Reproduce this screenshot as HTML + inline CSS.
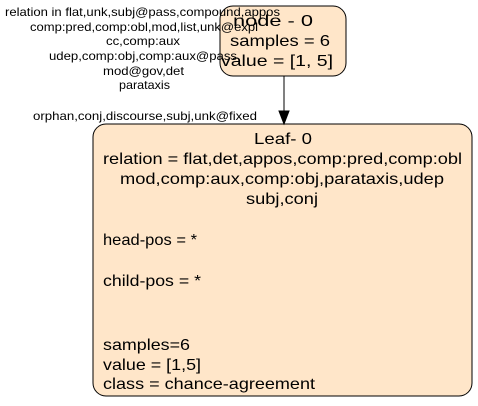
<!DOCTYPE html>
<html><head><style>
body{margin:0;width:478px;height:406px;background:#fff;position:relative;font-family:"Liberation Sans",sans-serif;overflow:hidden}
</style></head><body>
<svg width="478" height="406" style="position:absolute;left:0;top:0">
<rect x="220" y="6" width="126" height="70" rx="13" fill="#ffe6c9" stroke="#000" stroke-width="1"/>
<rect x="93" y="124" width="379" height="272" rx="13" fill="#ffe6c9" stroke="#000" stroke-width="1"/>
<line x1="284" y1="76" x2="284" y2="111" stroke="#000"/>
<polygon points="279,111 289,111 284,124" fill="#000" stroke="#000"/>
<g font-family="Liberation Sans, sans-serif" font-size="12" fill="#000">
<text x="5" y="16" textLength="275" lengthAdjust="spacingAndGlyphs">relation in flat,unk,subj@pass,compound,appos</text>
<text x="30" y="31" textLength="228" lengthAdjust="spacingAndGlyphs">comp:pred,comp:obl,mod,list,unk@expl</text>
<text x="106" y="45" textLength="74" lengthAdjust="spacingAndGlyphs">cc,comp:aux</text>
<text x="49" y="60" textLength="188" lengthAdjust="spacingAndGlyphs">udep,comp:obj,comp:aux@pass</text>
<text x="103" y="75" textLength="81" lengthAdjust="spacingAndGlyphs">mod@gov,det</text>
<text x="119" y="89" textLength="51" lengthAdjust="spacingAndGlyphs">parataxis</text>
<text x="33" y="120" textLength="224" lengthAdjust="spacingAndGlyphs">orphan,conj,discourse,subj,unk@fixed</text>
</g>
<g font-family="Liberation Sans, sans-serif" font-size="16" fill="#000">
<text x="233" y="26" textLength="80" lengthAdjust="spacingAndGlyphs">node - 0</text>
<text x="230" y="46" textLength="100" lengthAdjust="spacingAndGlyphs">samples = 6</text>
<text x="221" y="66" textLength="112" lengthAdjust="spacingAndGlyphs">value = [1, 5]</text>
<text x="254" y="144" textLength="58" lengthAdjust="spacingAndGlyphs">Leaf- 0</text>
<text x="103" y="164" textLength="359" lengthAdjust="spacingAndGlyphs">relation = flat,det,appos,comp:pred,comp:obl</text>
<text x="120" y="184" textLength="324" lengthAdjust="spacingAndGlyphs">mod,comp:aux,comp:obj,parataxis,udep</text>
<text x="246" y="204" textLength="72" lengthAdjust="spacingAndGlyphs">subj,conj</text>
<text x="103" y="245" textLength="94" lengthAdjust="spacingAndGlyphs">head-pos = *</text>
<text x="103" y="286" textLength="98" lengthAdjust="spacingAndGlyphs">child-pos = *</text>
<text x="103" y="350" textLength="87" lengthAdjust="spacingAndGlyphs">samples=6</text>
<text x="103" y="370" textLength="98" lengthAdjust="spacingAndGlyphs">value = [1,5]</text>
<text x="103" y="389" textLength="212" lengthAdjust="spacingAndGlyphs">class = chance-agreement</text>
</g>
</svg>
</body></html>
